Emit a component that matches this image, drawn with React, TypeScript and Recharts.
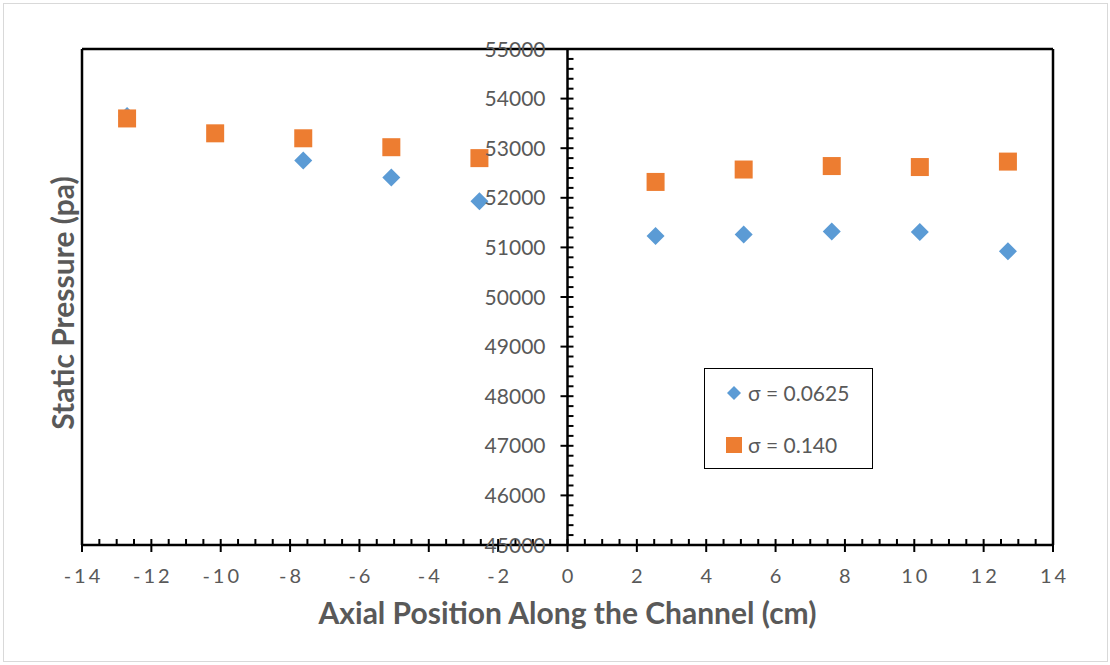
import { ScatterChart, Scatter, XAxis, YAxis, ReferenceLine, Legend } from 'recharts'

// axial positions (cm) and static pressure (pa)
const positionsLow = [-12.7, -7.62, -5.08, -2.54, 2.54, 5.08, 7.62, 10.16, 12.7]
const pressureLow = [53650, 52750, 52410, 51930, 51230, 51260, 51320, 51310, 50920]

const positionsHigh = [-12.7, -10.16, -7.62, -5.08, -2.54, 2.54, 5.08, 7.62, 10.16, 12.7]
const pressureHigh = [53600, 53300, 53200, 53020, 52800, 52320, 52570, 52640, 52620, 52730]

const xMajorTicks = [-14, -12, -10, -8, -6, -4, -2, 0, 2, 4, 6, 8, 10, 12, 14]
const yMajorTicks = [45000, 46000, 47000, 48000, 49000, 50000, 51000, 52000, 53000, 54000, 55000]
const X_MINOR = 0.5
const Y_MINOR = 200

const seriesLow = positionsLow.map((x, i) => ({ x, y: pressureLow[i] }))
const seriesHigh = positionsHigh.map((x, i) => ({ x, y: pressureHigh[i] }))

const withMinor = (major: number[], step: number) => {
  const out: number[] = []
  for (let i = 0; i < major.length - 1; i++) {
    for (let v = major[i]; v < major[i + 1] - step / 2; v += step) out.push(+v.toFixed(4))
  }
  out.push(major[major.length - 1])
  return out
}

const W = 1110
const H = 665
const M = { top: 49, right: 57, bottom: 119, left: 81 }
const AXIS_SIZE = 1
const PLOT_LEFT = M.left + AXIS_SIZE
const PLOT_RIGHT = W - M.right
const X_DOMAIN: [number, number] = [-14, 14]
const Y_DOMAIN: [number, number] = [45000, 55000]
// pixel position of the vertical axis (x = 0) inside the plot
const Y_AXIS_X = PLOT_LEFT + ((0 - X_DOMAIN[0]) / (X_DOMAIN[1] - X_DOMAIN[0])) * (PLOT_RIGHT - PLOT_LEFT)

const BLUE = '#5B9BD5'
const ORANGE = '#ED7D31'
const TEXT = '#595959'
const FONT = 'Lato, Carlito, Calibri, sans-serif'

const Diamond = (props: any) => {
  const { cx, cy } = props
  const r = 9
  return <polygon points={`${cx},${cy - r} ${cx + r},${cy} ${cx},${cy + r} ${cx - r},${cy}`} fill={BLUE} />
}

const Square = (props: any) => {
  const { cx, cy } = props
  return <rect x={cx - 9} y={cy - 9} width={18} height={18} fill={ORANGE} />
}

const XTick = (props: any) => {
  const { x, y, payload } = props
  const v = payload.value
  const major = xMajorTicks.includes(v)
  return (
    <g>
      <line x1={x} x2={x} y1={y - 6} y2={major ? y + 7 : y} stroke="#000" strokeWidth={2} />
      {major && (
        <text x={x + 1.5} y={y + 38} textAnchor="middle" fill={TEXT} fontSize={20} fontFamily={FONT} letterSpacing={3}>
          {v}
        </text>
      )}
    </g>
  )
}

const YTick = (props: any) => {
  const { y, payload } = props
  const v = payload.value
  const major = yMajorTicks.includes(v)
  const ax = Y_AXIS_X
  return (
    <g>
      <line x1={major ? ax - 7 : ax} x2={ax + 6} y1={y} y2={y} stroke="#000" strokeWidth={2} />
      {major && (
        <text x={ax - 22} y={y} dy="0.36em" textAnchor="end" fill={TEXT} fontSize={21} fontFamily={FONT}>
          {v}
        </text>
      )}
    </g>
  )
}

const YTitle = (props: any) => {
  const { viewBox } = props
  const cx = 62
  const cy = viewBox.y + viewBox.height / 2 + 6
  return (
    <text
      x={cx}
      y={cy}
      transform={`rotate(-90 ${cx} ${cy})`}
      textAnchor="middle"
      dominantBaseline="central"
      fill={TEXT}
      fontSize={30}
      fontWeight="bold"
      fontFamily={FONT}
    >
      Static Pressure (pa)
    </text>
  )
}

const LegendBox = () => (
  <div
    style={{
      position: 'relative',
      width: 169,
      height: 101,
      border: '1.5px solid #000',
      boxSizing: 'border-box',
      background: '#fff',
      fontFamily: FONT,
      fontSize: 21,
      color: TEXT,
    }}
  >
    <div style={{ display: 'flex', alignItems: 'center', position: 'absolute', left: 21, top: 11 }}>
      <svg width={16} height={16} style={{ marginRight: 6 }}>
        <polygon points="8,1 15,8 8,15 1,8" fill={BLUE} />
      </svg>
      <span>σ = 0.0625</span>
    </div>
    <div style={{ display: 'flex', alignItems: 'center', position: 'absolute', left: 21, top: 63 }}>
      <svg width={16} height={16} style={{ marginRight: 6 }}>
        <rect x={0} y={0} width={16} height={16} fill={ORANGE} />
      </svg>
      <span>σ = 0.140</span>
    </div>
  </div>
)

export default function App() {
  return (
    <div style={{ position: 'absolute', left: 0, top: 0, width: W, height: H, background: '#fff' }}>
      <div
        style={{
          position: 'absolute',
          left: 3,
          top: 3,
          width: 1105,
          height: 659,
          border: '1.5px solid #d9d9d9',
          boxSizing: 'border-box',
        }}
      />
      <ScatterChart width={W} height={H} margin={M} style={{ overflow: 'visible' }}>
        <XAxis
          type="number"
          dataKey="x"
          domain={X_DOMAIN}
          ticks={withMinor(xMajorTicks, X_MINOR)}
          interval={0}
          height={AXIS_SIZE}
          tickSize={0}
          tickMargin={0}
          tickLine={false}
          tick={<XTick />}
          axisLine={{ stroke: '#000', strokeWidth: 2.5 }}
          allowDataOverflow
          label={{
            value: 'Axial Position Along the Channel (cm)',
            position: 'bottom',
            offset: 57,
            fill: TEXT,
            fontSize: 30,
            fontWeight: 'bold',
            fontFamily: FONT,
          }}
        />
        <YAxis
          type="number"
          dataKey="y"
          domain={Y_DOMAIN}
          ticks={withMinor(yMajorTicks, Y_MINOR)}
          interval={0}
          width={AXIS_SIZE}
          tickSize={0}
          tickMargin={0}
          tickLine={false}
          axisLine={false}
          tick={<YTick />}
          allowDataOverflow
          label={{ content: <YTitle /> }}
        />
        <ReferenceLine x={-14} stroke="#000" strokeWidth={2.5} ifOverflow="visible" />
        <ReferenceLine x={14} stroke="#000" strokeWidth={2.5} ifOverflow="visible" />
        <ReferenceLine y={55000} stroke="#000" strokeWidth={2.5} ifOverflow="visible" />
        <ReferenceLine x={0} stroke="#000" strokeWidth={2.5} ifOverflow="visible" />
        <Scatter name="σ = 0.0625" data={seriesLow} shape={<Diamond />} fill={BLUE} isAnimationActive={false} />
        <Scatter name="σ = 0.140" data={seriesHigh} shape={<Square />} fill={ORANGE} isAnimationActive={false} />
        <Legend
          layout="horizontal"
          verticalAlign="middle"
          align="center"
          content={() => <LegendBox />}
          wrapperStyle={{ position: 'absolute', left: 704, top: 368, width: 169, height: 101 }}
        />
      </ScatterChart>
    </div>
  )
}
